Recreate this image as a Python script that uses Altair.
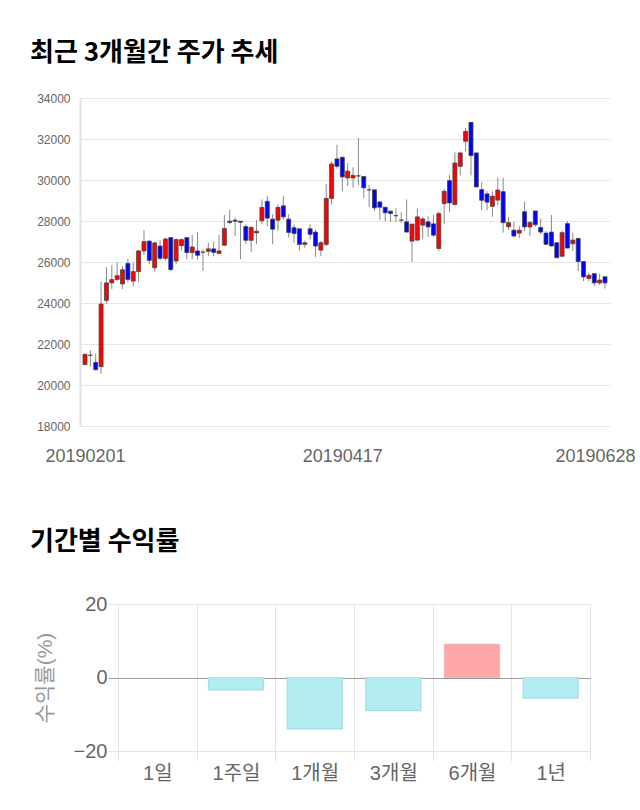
import altair as alt
import pandas as pd

# ---- candlestick data ----
opens = [21000, 21450, 21100, 20900, 24130, 24980, 25150, 24930, 25930, 25070,
         25530, 26540, 27020, 25720, 26780, 26180, 27190, 26050, 26800, 27190,
         26460, 26540, 26480, 26520, 26640, 26420, 26820, 27990, 28040, 27990,
         27730, 27060, 27420, 28010, 28960, 28090, 28040, 28740, 28090, 27670,
         27620, 26860, 27620, 27460, 26580, 26860, 29100, 31030, 31110, 30100,
         30100, 30200, 30170, 29520, 29520, 28930, 28670, 28480, 28260, 28040,
         27960, 27020, 27070, 27800, 27960, 27860, 26660, 28850, 29970, 28800,
         30670, 31890, 32810, 31320, 29530, 29320, 28720, 29020, 29430, 27720,
         27550, 27410, 28450, 27710, 28490, 27680, 27410, 27460, 26940, 26280,
         27870, 26890, 27150, 26020, 25200, 25430, 24980, 25280]
highs = [21500, 21700, 21530, 25050, 25750, 25850, 25980, 25790, 26150, 25990,
         26600, 27550, 27050, 26990, 27060, 27190, 27190, 27150, 27150, 27190,
         27320, 27480, 26620, 26930, 26980, 27320, 28290, 28550, 28170, 28000,
         27840, 27760, 28040, 29050, 29230, 28330, 28820, 29230, 28330, 27830,
         27620, 27050, 27830, 27590, 27020, 29810, 30900, 31720, 31110, 30830,
         30620, 32050, 30170, 29750, 29520, 28930, 28670, 28510, 28620, 28430,
         29050, 27850, 28610, 28200, 28230, 28310, 28450, 29570, 30260, 31350,
         31350, 32540, 32810, 31350, 29890, 29450, 29450, 30110, 30110, 28200,
         27970, 27760, 28940, 28000, 28490, 28130, 27510, 28290, 26940, 27540,
         28000, 27430, 27150, 26020, 25480, 25430, 25430, 25280]
lows = [20950, 20900, 20710, 20550, 23960, 24680, 25070, 24680, 25020, 24800,
        25020, 26340, 25890, 25530, 26080, 26080, 25560, 25890, 26570, 26130,
        26130, 26110, 25560, 26280, 26280, 26400, 26800, 27840, 27260, 26130,
        26880, 26490, 26870, 27840, 27750, 26870, 27520, 28070, 27190, 26940,
        26570, 26700, 27100, 26240, 26290, 26780, 28800, 30560, 29450, 29700,
        29620, 29750, 29130, 28680, 28480, 28060, 27990, 27950, 27940, 27910,
        27460, 26010, 27020, 27100, 27230, 27230, 26530, 27860, 28430, 28800,
        30220, 31400, 30220, 29660, 28530, 28530, 28200, 28780, 27430, 27560,
        27190, 27160, 27510, 27270, 27710, 27350, 26860, 26780, 26210, 26270,
        26680, 26540, 25560, 25070, 25070, 24830, 24880, 24700]
closes = [21500, 21450, 20750, 23950, 24980, 25140, 25330, 25620, 25150, 25530,
          26540, 26990, 26080, 26930, 26180, 27120, 25630, 27090, 27090, 26460,
          26730, 26330, 26480, 26640, 26470, 26540, 27630, 27930, 27990, 27940,
          27060, 27680, 27500, 28660, 28140, 27600, 28660, 28200, 27440, 27390,
          26860, 26940, 27350, 26780, 26940, 29100, 30780, 30670, 30150, 30430,
          30220, 30200, 29620, 29520, 28640, 28670, 28400, 28370, 28260, 28040,
          27460, 27850, 28200, 28100, 27710, 27310, 28360, 29450, 28880, 30830,
          31320, 32370, 31190, 29660, 29010, 28920, 29210, 29510, 27920, 27920,
          27270, 27550, 27710, 27920, 27820, 27460, 26860, 26780, 26210, 27430,
          26680, 27070, 26020, 25270, 25350, 24980, 25120, 24980]

tick_positions = [0, 48, 97]
tick_labels = ["20190201", "20190417", "20190628"]
price_ticks = [18000, 20000, 22000, 24000, 26000, 28000, 30000, 32000, 34000]

# ---- period returns ----
periods = ["1일", "1주일", "1개월", "3개월", "6개월", "1년"]
returns = [0.0, -3.4, -14.0, -9.0, 9.0, -5.6]
return_ticks = [-20, 0, 20]

# ---- tables ----
candles = pd.DataFrame({"i": list(range(len(opens))), "open": opens, "high": highs,
                        "low": lows, "close": closes})
candles["dir"] = ["up" if c > o else ("down" if c < o else "flat")
                  for o, c in zip(opens, closes)]

ret_df = pd.DataFrame({"period": periods, "ret": returns})
ret_df["sign"] = ["pos" if r > 0 else ("neg" if r < 0 else "zero") for r in returns]

label_expr = " : ".join(f"datum.value == {p} ? '{l}'" for p, l in zip(tick_positions, tick_labels)) + " : ''"
last_tick = tick_positions[-1]

x_enc = alt.X("i:Q",
              scale=alt.Scale(domain=[0, len(opens) - 1], nice=False, zero=False),
              axis=alt.Axis(values=tick_positions, labelExpr=label_expr, grid=False,
                            ticks=False, domain=False, labelFontSize=18,
                            labelFont="Liberation Sans",
                            labelColor="#666", labelPadding=21, labelOverlap=False,
                            labelFlush=False,
                            labelOffset={"condition": {"test": f"datum.value === {last_tick}", "value": -10}, "value": 0},
                            title=None))
y_scale = alt.Scale(domain=[18000, 34000], nice=False, zero=False)

wicks = alt.Chart(candles).mark_rule(color="#8a8a8a", strokeWidth=1, clip=True).encode(
    x=x_enc,
    y=alt.Y("low:Q", scale=y_scale,
            axis=alt.Axis(values=price_ticks, format="d", ticks=False, labelFontSize=12,
                          labelFont="Liberation Sans", labelColor="#666",
                          labelPadding=10, gridColor="#e6e6e6", domainColor="#e3e3e3",
                          domainWidth=2, title=None)),
    y2="high:Q",
)
bodies = alt.Chart(candles).mark_bar(width=4, stroke="#444", strokeWidth=0.8, clip=True).encode(
    x=x_enc,
    y=alt.Y("open:Q", scale=y_scale),
    y2="close:Q",
    color=alt.Color("dir:N", scale=alt.Scale(domain=["up", "down", "flat"],
                                             range=["#ff0000", "#0000ff", "#555555"]),
                    legend=None),
)

top = alt.layer(wicks, bodies).properties(
    width=530, height=328,
    title=alt.TitleParams(text="최근 3개월간 주가 추세", anchor="start", frame="group",
                          dx=-50, offset=26, fontSize=26, fontWeight="bold",
                          font="Noto Sans CJK KR", color="#000"),
)

grid_cond = {"condition": {"test": "datum.value === 0", "value": "#9a9a9a"}, "value": "#e5e5e5"}

bottom = alt.Chart(ret_df).mark_bar(width=alt.RelativeBandSize(0.7), strokeWidth=1.2).encode(
    x=alt.X("period:N", sort=periods,
            scale=alt.Scale(domain=periods, paddingInner=0, paddingOuter=0),
            axis=alt.Axis(tickBand="extent", grid=True, gridColor="#e5e5e5", ticks=True,
                          tickSize=10, tickColor="#e5e5e5", domain=False, labelAngle=0,
                          labelFontSize=20, labelFont="Liberation Sans, Noto Sans CJK KR",
                          labelColor="#666", labelPadding=2, title=None)),
    y=alt.Y("ret:Q", scale=alt.Scale(domain=[-20, 20], nice=False),
            axis=alt.Axis(values=return_ticks, gridColor=grid_cond, tickColor=grid_cond,
                          tickSize=10, domain=False, labelPadding=1, labelFontSize=20,
                          labelFont="Liberation Sans", labelColor="#666",
                          title="수익률(%)", titleFontSize=21, titleFontWeight="normal",
                          titleFont="Liberation Sans, Noto Sans CJK KR", titleColor="#999",
                          titlePadding=18)),
    fill=alt.Fill("sign:N", scale=alt.Scale(domain=["pos", "neg", "zero"],
                                            range=["#ffa7a7", "#b2ebf2", "transparent"]),
                  legend=None),
    stroke=alt.Stroke("sign:N", scale=alt.Scale(domain=["pos", "neg", "zero"],
                                                range=["#f0b4b4", "#a8dde4", "transparent"]),
                      legend=None),
).properties(
    width=472, height=147,
    title=alt.TitleParams(text="기간별 수익률", anchor="start", frame="group",
                          dx=-88, offset=39, fontSize=26, fontWeight="bold",
                          font="Noto Sans CJK KR", color="#000"),
)


def spacer():
    # invisible 1px cell so that each panel keeps its own left offset
    return alt.Chart(pd.DataFrame({"s": [""]})).mark_text(opacity=0).encode(
        text="s:N", x=alt.value(0), y=alt.value(0)).properties(width=1, height=1)


chart = alt.vconcat(
    alt.hconcat(spacer(), top, spacing=0),
    alt.hconcat(spacer(), bottom, spacing=0),
    spacing=64,
).properties(
    padding={"left": 29, "top": 40, "right": 0, "bottom": 0},
    background="white",
).configure_view(strokeWidth=0)

chart.save("out.html", embed_options={"renderer": "svg", "actions": False})
